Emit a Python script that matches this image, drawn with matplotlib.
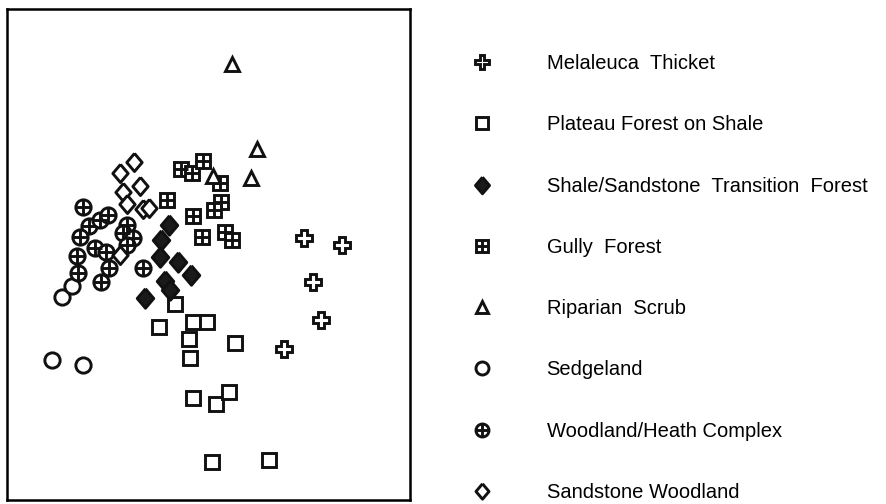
import matplotlib
matplotlib.use("Agg")
import matplotlib.pyplot as plt

# ordination scores (arbitrary units, no ticks shown)
melaleuca_x = [297, 335, 306, 314, 277]
melaleuca_y = [262, 255, 218, 180, 151]

plateau_x = [168, 152, 186, 200, 182, 183, 228, 186, 209, 222, 205, 262]
plateau_y = [196, 173, 178, 178, 161, 142, 157, 102, 96, 108, 38, 40]

shale_x = [162, 154, 153, 171, 184, 158, 163, 138]
shale_y = [275, 260, 243, 238, 225, 219, 210, 202]

gully_x = [174, 185, 196, 213, 214, 207, 160, 186, 195, 218, 225]
gully_y = [331, 327, 339, 317, 298, 290, 300, 284, 263, 268, 260]

riparian_x = [225, 250, 244, 206]
riparian_y = [436, 351, 322, 324]

sedge_x = [55, 65, 45, 76]
sedge_y = [203, 214, 140, 135]

heath_x = [76, 82, 73, 70, 71, 93, 101, 120, 116, 126, 120, 88, 99, 102, 94, 136]
heath_y = [293, 274, 263, 244, 227, 280, 285, 275, 267, 262, 255, 252, 248, 232, 218, 232]

sandstone_x = [127, 113, 133, 116, 120, 136, 142, 113]
sandstone_y = [338, 327, 314, 308, 296, 291, 292, 245]

labels = ["Melaleuca  Thicket", "Plateau Forest on Shale",
          "Shale/Sandstone  Transition  Forest", "Gully  Forest",
          "Riparian  Scrub", "Sedgeland", "Woodland/Heath Complex",
          "Sandstone Woodland"]

# slightly tall diamond, like the printed symbols
diamond = [(0, 1), (0.85, 0), (0, -1), (-0.85, 0), (0, 1)]

fig = plt.figure(figsize=(8.86, 5.04), dpi=100)
ax = fig.add_axes([7/886, 1 - 500/504, 403/886, 491/504])

lw = 2.1
k = dict(ls="none", mec="#111111", mew=lw)

h1 = ax.plot(melaleuca_x, melaleuca_y, marker="P", ms=11.5, mfc="white", **k)[0]
h2 = ax.plot(plateau_x, plateau_y, marker="s", ms=10, mfc="white", **k)[0]
h3 = ax.plot(shale_x, shale_y, marker=diamond, ms=14, mfc="#1a1a1a", **k)[0]
h4a = ax.plot(gully_x, gully_y, marker="s", ms=10, mfc="white", **k)[0]
h4b = ax.plot(gully_x, gully_y, marker="+", ms=10, **k)[0]
h5 = ax.plot(riparian_x, riparian_y, marker="^", ms=10.5, mfc="white", **k)[0]
h6 = ax.plot(sedge_x, sedge_y, marker="o", ms=11, mfc="white", **k)[0]
h7a = ax.plot(heath_x, heath_y, marker="o", ms=11, mfc="white", **k)[0]
h7b = ax.plot(heath_x, heath_y, marker="+", ms=10.5, **k)[0]
h8 = ax.plot(sandstone_x, sandstone_y, marker=diamond, ms=13, mfc="white", **k)[0]

ax.set_xlim(0, 403)
ax.set_ylim(0, 491)
ax.set_xticks([])
ax.set_yticks([])
for s in ax.spines.values():
    s.set_linewidth(1.8)

handles = [h1, h2, h3, (h4a, h4b), h5, h6, (h7a, h7b), h8]
fig.legend(handles, labels, loc="upper left", bbox_to_anchor=(472/886, 1 - 54/504),
           frameon=False, prop={"family": "Liberation Sans", "size": 14.5},
           markerscale=0.85, handlelength=1.0, handletextpad=2.7,
           labelspacing=2.1, borderpad=0, borderaxespad=0)

fig.savefig("out.png", dpi=100)
